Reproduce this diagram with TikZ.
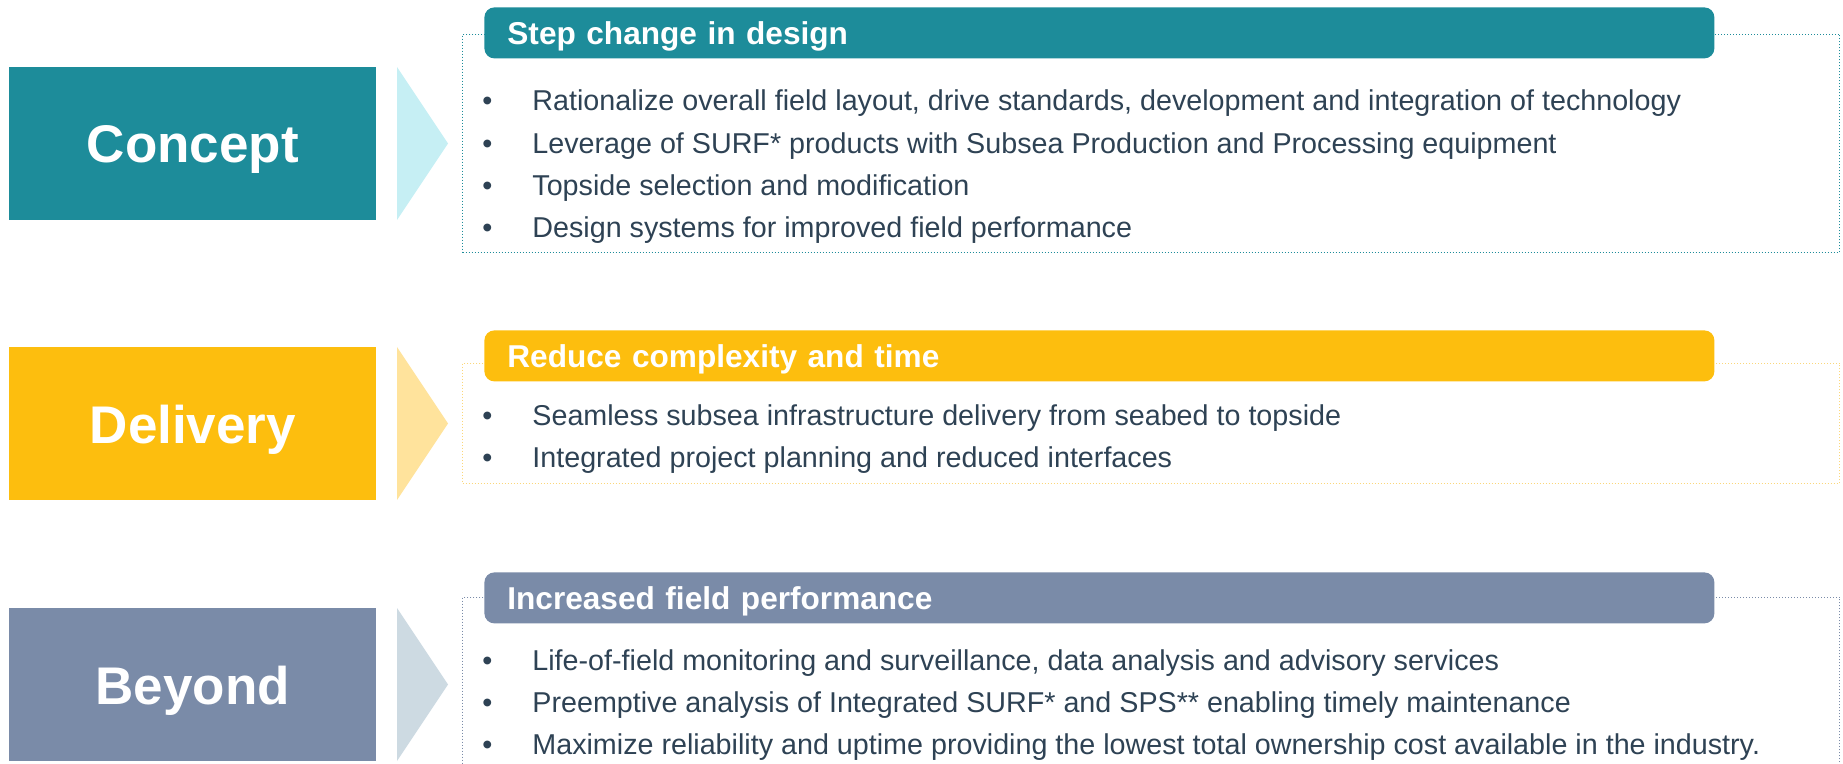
\documentclass[tikz,border=0pt]{standalone}
\usepackage{fontspec}
\setmainfont{Liberation Sans}
\usepackage{xcolor}
\usetikzlibrary{positioning}

\definecolor{conceptcol}{HTML}{1D8C9A}
\definecolor{deliverycol}{HTML}{FDBE0E}
\definecolor{beyondcol}{HTML}{7A8BA8}
\definecolor{conceptlight}{HTML}{C6EFF4}
\definecolor{deliverylight}{HTML}{FFE39C}
\definecolor{beyondlight}{HTML}{CDDAE2}
\definecolor{deliveryline}{HTML}{FBD77A}
\definecolor{bodytext}{HTML}{2E4254}

\newcommand{\bul}[1]{\makebox[25pt][l]{\textbullet}#1}

\begin{document}
\begin{tikzpicture}[x=0.5pt,y=-0.5pt]
\tikzset{stage/.style={anchor=north west,inner sep=0pt,minimum width=183.5pt,minimum height=76.5pt,text depth=0pt,text=white,font=\bfseries\fontsize{26.5}{30}\selectfont}}
\tikzset{header/.style={anchor=north west,rounded corners=5pt,inner xsep=11.5pt,inner ysep=0pt,text width=592pt,minimum height=25.5pt,text depth=0pt,align=left,text=white,font=\bfseries\fontsize{15.8}{19}\selectfont}}
\tikzset{panel/.style={anchor=north west,densely dotted,line width=0.5pt,minimum width=688.5pt,inner sep=0pt}}
\tikzset{item/.style={anchor=base west,inner sep=0pt,text=bodytext,font=\fontsize{14.35}{17}\selectfont}}

\clip (0,0) rectangle (1843,764);

% Concept
\node[stage,fill=conceptcol] (concept) at (9,67) {Concept};
\fill[conceptlight] (397,67) -- (448,143.5) -- (397,220) -- cycle;
\node[panel,draw=conceptcol,minimum height=109pt] (conceptbox) at (462,34) {};
\node[header,fill=conceptcol] (concepthead) at (484,7) {Step change in design};
\foreach \t [count=\i] in {{Rationalize overall field layout, drive standards, development and integration of technology},
  {Leverage of SURF* products with Subsea Production and Processing equipment},
  {Topside selection and modification},
  {Design systems for improved field performance}}
  \node[item] (cpt\i) at (482,{111+42.3*(\i-1)}) {\bul{\t}};

% Delivery
\node[stage,fill=deliverycol] (delivery) at (9,347) {Delivery};
\fill[deliverylight] (397,347) -- (448,423.5) -- (397,500) -- cycle;
\node[panel,draw=deliveryline,minimum height=60pt] (deliverybox) at (462,363) {};
\node[header,fill=deliverycol] (deliveryhead) at (484,330) {Reduce complexity and time};
\foreach \t [count=\i] in {{Seamless subsea infrastructure delivery from seabed to topside},
  {Integrated project planning and reduced interfaces}}
  \node[item] (dlv\i) at (482,{425.5+42*(\i-1)}) {\bul{\t}};

% Beyond
\node[stage,fill=beyondcol] (beyond) at (9,608) {Beyond};
\fill[beyondlight] (397,608) -- (448,684.5) -- (397,761) -- cycle;
\node[panel,draw=beyondcol,minimum height=90pt] (beyondbox) at (462,597) {};
\node[header,fill=beyondcol] (beyondhead) at (484,572) {Increased field performance};
\foreach \t [count=\i] in {{Life-of-field monitoring and surveillance, data analysis and advisory services},
  {Preemptive analysis of Integrated SURF* and SPS** enabling timely maintenance},
  {Maximize reliability and uptime providing the lowest total ownership cost available in the industry.}}
  \node[item] (byd\i) at (482,{670+42*(\i-1)}) {\bul{\t}};

\end{tikzpicture}
\end{document}
